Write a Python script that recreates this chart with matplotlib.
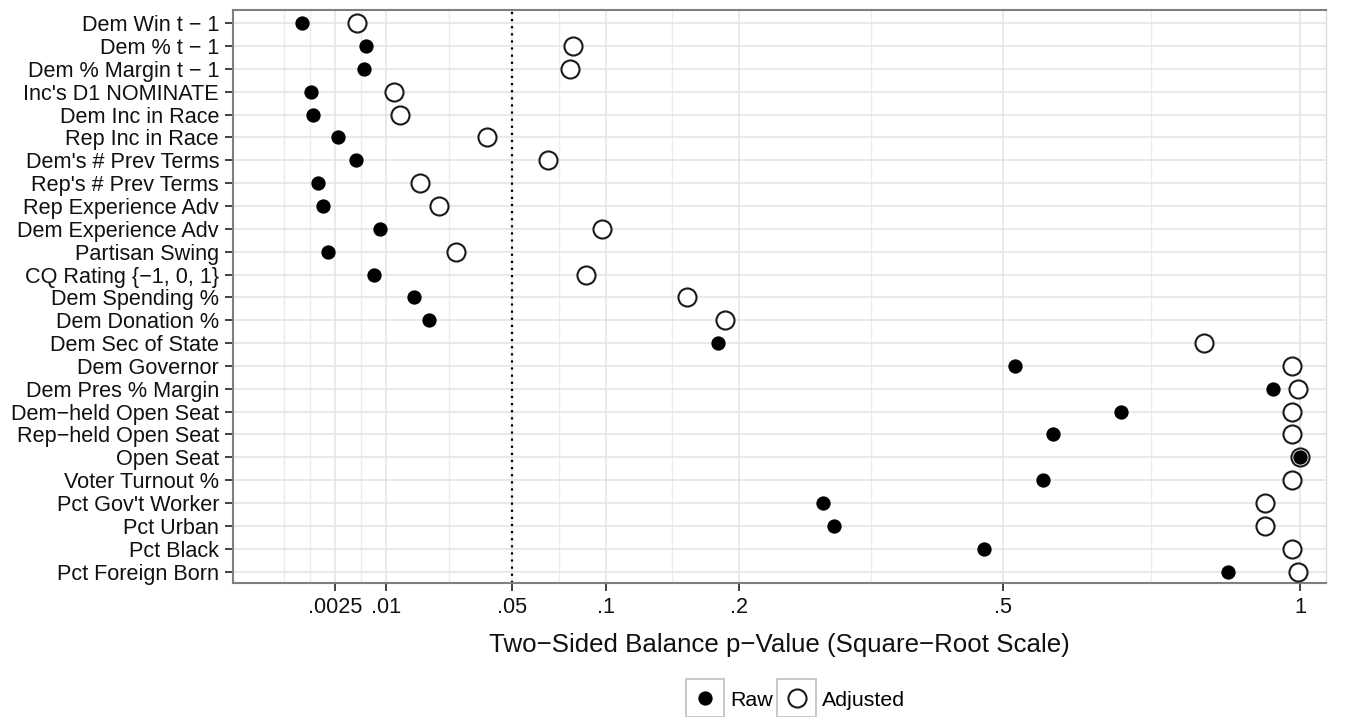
import numpy as np
import matplotlib
matplotlib.use('Agg')
import matplotlib.pyplot as plt
from matplotlib.legend_handler import HandlerLine2D
from matplotlib.patches import Rectangle
from matplotlib.lines import Line2D

plt.rcParams['font.family'] = ['Liberation Sans', 'DejaVu Sans']

covariates = ["Dem Win t \u2212 1", "Dem % t \u2212 1", "Dem % Margin t \u2212 1",
              "Inc's D1 NOMINATE", "Dem Inc in Race", "Rep Inc in Race",
              "Dem's # Prev Terms", "Rep's # Prev Terms", "Rep Experience Adv",
              "Dem Experience Adv", "Partisan Swing", "CQ Rating {\u22121, 0, 1}",
              "Dem Spending %", "Dem Donation %", "Dem Sec of State", "Dem Governor",
              "Dem Pres % Margin", "Dem\u2212held Open Seat", "Rep\u2212held Open Seat",
              "Open Seat", "Voter Turnout %", "Pct Gov't Worker", "Pct Urban",
              "Pct Black", "Pct Foreign Born"]

raw_p = [0.00029, 0.0065, 0.0062, 0.00068, 0.00077, 0.00274, 0.0050, 0.00107,
         0.00146, 0.0088, 0.00186, 0.0077, 0.0163, 0.0202, 0.182, 0.518,
         0.948, 0.679, 0.572, 1.0, 0.558, 0.281, 0.293, 0.474, 0.864]

adjusted_p = [0.0051, 0.0809, 0.0790, 0.0116, 0.0129, 0.0396, 0.0672, 0.0178,
              0.0232, 0.0976, 0.0286, 0.0880, 0.157, 0.188, 0.820, 0.984,
              0.996, 0.984, 0.984, 1.0, 0.984, 0.933, 0.933, 0.984, 0.996]

x_breaks = [0.0025, 0.01, 0.05, 0.1, 0.2, 0.5, 1]
x_labels = ['.0025', '.01', '.05', '.1', '.2', '.5', '1']


def fwd(x):
    x = np.asarray(x, dtype=float)
    return np.sign(x) * np.sqrt(np.abs(x))


def inv(y):
    y = np.asarray(y, dtype=float)
    return np.sign(y) * y ** 2


class BoxedKey(HandlerLine2D):
    # legend key with a grey square around the marker, ggplot style
    def create_artists(self, legend, orig_handle, xdescent, ydescent,
                       width, height, fontsize, trans):
        arts = super().create_artists(legend, orig_handle, xdescent, ydescent,
                                      width, height, fontsize, trans)
        cy = height / 2 - ydescent
        box = Rectangle((-xdescent, cy - width / 2), width, width, fill=False,
                        edgecolor='#c4c4c4', lw=1.3, transform=trans)
        return [box] + arts


fig = plt.figure(figsize=(13.47, 7.17), dpi=100)
ax = fig.add_axes([233 / 1347, 1 - 583 / 717, (1326 - 233) / 1347, (583 - 10) / 717])

ypos = np.arange(len(covariates))

ax.set_xscale('function', functions=(fwd, inv))
ax.set_xlim(-0.0507 ** 2, 1.0256 ** 2)
ax.set_ylim(len(covariates) - 0.5, -0.58)

# gridlines
sq = np.sqrt([0] + x_breaks)
minor = [0.0] + list(((sq[:-1] + sq[1:]) / 2) ** 2)
ax.set_xticks(x_breaks)
ax.set_xticklabels(x_labels)
ax.set_xticks(minor, minor=True)
ax.set_yticks(ypos)
ax.set_yticklabels(covariates)
ax.grid(True, which='major', color='#e3e3e3', lw=1.1)
ax.grid(True, which='minor', axis='x', color='#ececec', lw=1.0)
ax.set_axisbelow(True)

ax.axvline(0.05, color='black', ls=(0, (1, 2.2)), lw=1.6, zorder=2)

ax.plot(adjusted_p, ypos, ls='none', marker='o', ms=13, mfc='white',
        mec='#1a1a1a', mew=1.5, zorder=3)
ax.plot(raw_p, ypos, ls='none', marker='o', ms=10.3, mfc='black',
        mec='black', mew=0, zorder=4)

for side in ['left', 'bottom', 'top']:
    ax.spines[side].set_color('#7f7f7f')
    ax.spines[side].set_linewidth(1.5)
ax.spines['right'].set_color('#dcdcdc')
ax.spines['right'].set_linewidth(1.0)

ax.tick_params(axis='both', which='major', labelsize=15.6, colors='#333333',
               labelcolor='#111111', length=6, width=1.3, pad=4)
ax.tick_params(axis='x', which='minor', length=0)
ax.set_xlabel("Two\u2212Sided Balance p\u2212Value (Square\u2212Root Scale)",
              fontsize=18.6, labelpad=11, color='#111111')

h_raw = Line2D([], [], ls='none', marker='o', ms=10.3, mfc='black', mec='black', mew=0)
h_adj = Line2D([], [], ls='none', marker='o', ms=13, mfc='white', mec='#1a1a1a', mew=1.5)
fig.legend([h_raw, h_adj], ['Raw', 'Adjusted'], loc='center',
           bbox_to_anchor=(795.5 / 1347, 17 / 717), ncol=2, frameon=False,
           fontsize=15.4, numpoints=1, handlelength=1.8, handletextpad=0.28,
           columnspacing=0.2, borderpad=0,
           handler_map={Line2D: BoxedKey(numpoints=1)})

fig.savefig('out.png', dpi=100)
